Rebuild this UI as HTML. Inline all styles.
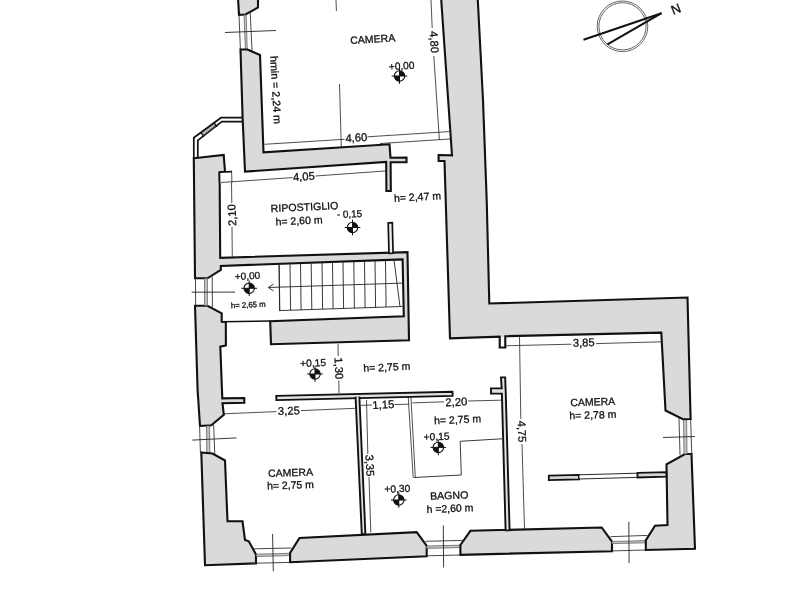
<!DOCTYPE html>
<html><head><meta charset="utf-8"><style>
html,body{margin:0;padding:0;background:#fff;}
body{width:800px;height:600px;overflow:hidden;}
svg{display:block;font-family:"Liberation Sans",sans-serif;filter:grayscale(1);}
</style></head><body>
<svg width="800" height="600" viewBox="0 0 800 600">
<rect width="800" height="600" fill="#fff"/>
<polygon points="238.00,-2.00 258.00,-2.00 258.00,7.50 245.50,14.50 239.00,14.80" fill="#dadada" stroke="#111" stroke-width="2.1" stroke-linejoin="miter"/>
<line x1="239" y1="15" x2="240.4" y2="49.5" stroke="#333" stroke-width="0.9"/>
<polygon points="244.00,15.00 246.20,15.00 247.20,49.50 245.40,49.50" fill="#c4c4c4" stroke="#666" stroke-width="0.8"/>
<line x1="250.2" y1="12" x2="252" y2="50.5" stroke="#333" stroke-width="0.9"/>
<line x1="225" y1="32.5" x2="276" y2="30.5" stroke="#222" stroke-width="0.9"/>
<polygon points="240.50,49.50 247.50,49.50 260.00,55.00 263.50,152.30 389.50,144.30 390.50,157.80 406.50,157.60 406.50,162.20 390.60,162.30 390.80,191.00 386.40,191.00 386.20,161.90 245.00,171.60 242.60,117.50" fill="#dadada" stroke="#111" stroke-width="2.1" stroke-linejoin="miter"/>
<polyline points="242.60,117.70 221.00,117.70 193.80,137.80 193.80,158.30" fill="none" stroke="#111" stroke-width="1.7"/>
<polyline points="242.60,121.70 221.80,121.70 197.80,140.40 197.80,157.50" fill="none" stroke="#111" stroke-width="1.7"/>
<line x1="201.8" y1="133.6" x2="214.7" y2="123.9" stroke="#444" stroke-width="0.6"/>
<line x1="202.5" y1="134.6" x2="215.4" y2="124.9" stroke="#444" stroke-width="0.6"/>
<line x1="203.2" y1="135.6" x2="216.1" y2="125.9" stroke="#444" stroke-width="0.6"/>
<line x1="200.9" y1="132.4" x2="203.9" y2="136.6" stroke="#111" stroke-width="1.4"/>
<line x1="214.0" y1="122.8" x2="217.0" y2="126.9" stroke="#111" stroke-width="1.4"/>
<polygon points="193.80,158.30 223.70,155.00 225.00,171.70 219.60,172.40 220.20,257.80 407.50,252.20 409.00,340.30 271.00,344.20 270.20,321.20 403.80,316.20 402.60,259.40 220.80,265.90 220.80,270.00 207.50,278.30 195.00,278.30" fill="#dadada" stroke="#111" stroke-width="2.1" stroke-linejoin="miter"/>
<polygon points="388.20,222.80 392.30,222.60 393.10,253.20 389.00,253.40" fill="#ececec" stroke="#111" stroke-width="1.7" stroke-linejoin="miter"/>
<polygon points="219.40,172.20 231.80,171.60 232.20,182.20 219.60,182.50" fill="#fff" stroke="#111" stroke-width="0" stroke-linejoin="miter"/>
<polyline points="219.60,182.50 219.40,172.20 231.80,171.60" fill="none" stroke="#111" stroke-width="1.7"/>
<line x1="231.6" y1="170.5" x2="231.9" y2="182.5" stroke="#222" stroke-width="0.8"/>
<line x1="279.2" y1="264.59235772357727" x2="279.8" y2="310.59333333333336" stroke="#222" stroke-width="0.9"/>
<line x1="290" y1="264.179674796748" x2="290.6" y2="310.23333333333335" stroke="#222" stroke-width="0.9"/>
<line x1="300.5" y1="263.7784552845529" x2="301.1" y2="309.8833333333333" stroke="#222" stroke-width="0.9"/>
<line x1="311.2" y1="263.36959349593496" x2="311.8" y2="309.5266666666667" stroke="#222" stroke-width="0.9"/>
<line x1="322" y1="262.95691056910573" x2="322.6" y2="309.1666666666667" stroke="#222" stroke-width="0.9"/>
<line x1="332.5" y1="262.5556910569106" x2="333.1" y2="308.81666666666666" stroke="#222" stroke-width="0.9"/>
<line x1="343" y1="262.1544715447155" x2="343.6" y2="308.4666666666667" stroke="#222" stroke-width="0.9"/>
<line x1="353.8" y1="261.7417886178862" x2="354.40000000000003" y2="308.1066666666667" stroke="#222" stroke-width="0.9"/>
<line x1="364.5" y1="261.33292682926833" x2="365.1" y2="307.75" stroke="#222" stroke-width="0.9"/>
<line x1="375" y1="260.9317073170732" x2="375.6" y2="307.4" stroke="#222" stroke-width="0.9"/>
<line x1="385.5" y1="260.5304878048781" x2="386.1" y2="307.05" stroke="#222" stroke-width="0.9"/>
<line x1="394" y1="259.9056910569106" x2="400" y2="306.56666666666666" stroke="#222" stroke-width="0.9"/>
<line x1="279" y1="310.6" x2="402.5" y2="306.48333333333335" stroke="#222" stroke-width="0.9"/>
<line x1="279" y1="264.3" x2="279.6" y2="310.58000000000004" stroke="#222" stroke-width="0.9"/>
<line x1="268.3" y1="287.5" x2="402.5" y2="283.1" stroke="#222" stroke-width="0.9"/>
<polyline points="273.60,284.00 268.30,287.50 273.60,291.00" fill="none" stroke="#222" stroke-width="0.9"/>
<line x1="221.7" y1="321.7" x2="270.2" y2="321.0" stroke="#111" stroke-width="1.6"/>
<polygon points="195.00,305.80 207.50,305.80 221.70,313.30 221.70,321.70 225.80,321.90 225.90,345.50 220.30,346.60 222.30,398.40 244.20,398.00 244.30,402.80 222.50,403.20 223.80,414.80 211.30,425.20 200.00,426.00 197.60,390.00" fill="#dadada" stroke="#111" stroke-width="2.1" stroke-linejoin="miter"/>
<line x1="195.5" y1="278.6" x2="195.6" y2="305.6" stroke="#333" stroke-width="0.9"/>
<polygon points="204.50,278.60 207.40,278.60 207.40,305.60 204.60,305.60" fill="#c4c4c4" stroke="#666" stroke-width="0.8"/>
<line x1="212.2" y1="276.8" x2="212.4" y2="307.5" stroke="#333" stroke-width="0.9"/>
<line x1="191.7" y1="292.2" x2="235" y2="292.1" stroke="#222" stroke-width="0.9"/>
<line x1="199.6" y1="426" x2="200.4" y2="452.5" stroke="#333" stroke-width="0.9"/>
<polygon points="206.50,426.00 209.60,426.00 209.90,452.80 206.80,452.80" fill="#c4c4c4" stroke="#666" stroke-width="0.8"/>
<line x1="213.6" y1="424.5" x2="214.8" y2="454" stroke="#333" stroke-width="0.9"/>
<line x1="192.25" y1="440.1" x2="236.5" y2="437.9" stroke="#222" stroke-width="0.9"/>
<polygon points="201.30,452.50 212.50,453.50 225.00,460.50 227.50,521.30 242.50,521.30 245.00,540.00 248.80,541.30 256.00,554.40 256.00,563.40 205.00,565.20" fill="#dadada" stroke="#111" stroke-width="2.1" stroke-linejoin="miter"/>
<line x1="253.8" y1="548.8" x2="291.3" y2="548.0" stroke="#333" stroke-width="0.9"/>
<polygon points="256.30,554.20 290.00,553.30 290.00,555.60 256.30,556.50" fill="#c4c4c4" stroke="#666" stroke-width="0.8"/>
<line x1="250" y1="563.3" x2="300" y2="562.2" stroke="#333" stroke-width="0.9"/>
<line x1="272.6" y1="534" x2="273.3" y2="571.3" stroke="#222" stroke-width="0.9"/>
<polygon points="290.10,562.20 290.10,552.90 299.50,537.90 416.70,532.10 426.70,545.80 426.70,556.20" fill="#dadada" stroke="#111" stroke-width="2.1" stroke-linejoin="miter"/>
<line x1="425.4" y1="541.3" x2="462.5" y2="540.4" stroke="#333" stroke-width="0.9"/>
<polygon points="426.70,546.00 460.40,545.20 460.40,547.60 426.70,548.40" fill="#c4c4c4" stroke="#666" stroke-width="0.8"/>
<line x1="426.7" y1="555.8" x2="460.4" y2="555.0" stroke="#333" stroke-width="0.9"/>
<line x1="443.3" y1="525.4" x2="443.6" y2="567.5" stroke="#222" stroke-width="0.9"/>
<polygon points="460.40,554.80 460.40,545.00 470.40,530.80 601.70,527.50 612.00,541.70 612.00,551.20" fill="#dadada" stroke="#111" stroke-width="2.1" stroke-linejoin="miter"/>
<line x1="610.4" y1="536.7" x2="647.5" y2="535.4" stroke="#333" stroke-width="0.9"/>
<polygon points="612.00,541.50 645.80,540.60 645.80,542.80 612.00,543.60" fill="#c4c4c4" stroke="#666" stroke-width="0.8"/>
<line x1="612" y1="550.9" x2="645.8" y2="550.0" stroke="#333" stroke-width="0.9"/>
<line x1="628.8" y1="521.7" x2="629.1" y2="563" stroke="#222" stroke-width="0.9"/>
<polygon points="645.80,550.00 645.80,540.40 655.00,525.80 667.50,525.00 666.50,464.30 685.00,454.00 691.50,454.00 695.00,548.80" fill="#dadada" stroke="#111" stroke-width="2.1" stroke-linejoin="miter"/>
<line x1="679" y1="418" x2="680" y2="455" stroke="#333" stroke-width="0.9"/>
<polygon points="683.50,419.00 686.60,419.00 687.00,454.00 684.00,454.00" fill="#c4c4c4" stroke="#666" stroke-width="0.8"/>
<line x1="690.6" y1="418" x2="691.8" y2="455" stroke="#333" stroke-width="0.9"/>
<line x1="663" y1="437.5" x2="695" y2="436.5" stroke="#222" stroke-width="0.9"/>
<polygon points="441.10,-2.00 477.70,-2.00 483.00,100.00 486.70,200.00 489.30,303.50 687.50,297.50 690.60,419.00 683.00,419.20 665.50,410.50 661.30,332.60 505.30,336.20 505.30,347.50 499.70,347.50 499.70,336.60 450.00,338.30 444.50,161.00 438.60,161.00 438.60,155.00 452.00,155.30" fill="#dadada" stroke="#111" stroke-width="2.1" stroke-linejoin="miter"/>
<rect x="501.1" y="337.2" width="2.6" height="9.1" fill="#fff"/>
<polygon points="276.30,395.90 452.50,391.70 452.60,395.90 276.40,400.10" fill="#e2e2e2" stroke="#111" stroke-width="1.9" stroke-linejoin="miter"/>
<polygon points="355.60,397.60 359.40,397.50 365.40,534.00 361.80,534.10" fill="#e2e2e2" stroke="#111" stroke-width="1.9" stroke-linejoin="miter"/>
<polygon points="356.6,395.0 358.4,395.0 358.5,399.4 356.7,399.4" fill="#e2e2e2"/>
<polygon points="501.00,377.40 505.20,377.40 505.50,388.20 505.60,388.20 509.60,530.30 505.60,530.40 501.90,393.60 491.00,393.60 491.00,388.40 501.70,388.40" fill="#e2e2e2" stroke="#111" stroke-width="1.9" stroke-linejoin="miter"/>
<line x1="408.2" y1="396.5" x2="413.2" y2="477.6" stroke="#222" stroke-width="0.8"/>
<line x1="410.9" y1="396.3" x2="415.3" y2="477.4" stroke="#222" stroke-width="0.8"/>
<polyline points="413.80,477.50 461.30,475.00 460.20,441.30 502.00,438.80" fill="none" stroke="#222" stroke-width="0.9"/>
<polygon points="548.80,475.60 579.00,474.80 579.00,479.30 548.80,480.10" fill="#d4d4d4" stroke="#111" stroke-width="1.8" stroke-linejoin="miter"/>
<polygon points="579.00,474.80 637.50,473.20 637.50,477.40 579.00,479.00" fill="#fff" stroke="#111" stroke-width="0.9" stroke-linejoin="miter"/>
<polygon points="637.50,472.80 666.30,472.10 666.30,476.70 637.50,477.50" fill="#d4d4d4" stroke="#111" stroke-width="1.8" stroke-linejoin="miter"/>
<line x1="336" y1="0" x2="336.4" y2="11" stroke="#222" stroke-width="0.8"/>
<line x1="339.5" y1="84" x2="341.3" y2="147" stroke="#222" stroke-width="0.8"/>
<line x1="264.4" y1="144.3" x2="344.5" y2="139.3" stroke="#222" stroke-width="0.8"/>
<line x1="367.5" y1="136.8" x2="449" y2="131.6" stroke="#222" stroke-width="0.8"/>
<line x1="380" y1="143.5" x2="450" y2="139" stroke="#222" stroke-width="0.8"/>
<line x1="431" y1="0" x2="432.2" y2="28" stroke="#222" stroke-width="0.8"/>
<line x1="433.8" y1="56" x2="439.4" y2="140" stroke="#222" stroke-width="0.8"/>
<line x1="221" y1="182.5" x2="292.5" y2="177.6" stroke="#222" stroke-width="0.8"/>
<line x1="315.5" y1="176.0" x2="386.3" y2="170.9" stroke="#222" stroke-width="0.8"/>
<line x1="231.5" y1="182.5" x2="231.8" y2="203" stroke="#222" stroke-width="0.8"/>
<line x1="232" y1="227" x2="232.3" y2="257.8" stroke="#222" stroke-width="0.8"/>
<line x1="338" y1="344" x2="338.2" y2="356" stroke="#222" stroke-width="0.8"/>
<line x1="338.8" y1="380.5" x2="339" y2="393" stroke="#222" stroke-width="0.8"/>
<line x1="224" y1="413.8" x2="276.5" y2="411.6" stroke="#222" stroke-width="0.8"/>
<line x1="301" y1="410.6" x2="355" y2="408.3" stroke="#222" stroke-width="0.8"/>
<line x1="361" y1="405.4" x2="372" y2="405" stroke="#222" stroke-width="0.8"/>
<line x1="394.5" y1="404.5" x2="409" y2="404.2" stroke="#222" stroke-width="0.8"/>
<line x1="412.3" y1="402.9" x2="444" y2="401.8" stroke="#222" stroke-width="0.8"/>
<line x1="468" y1="401" x2="501" y2="400.2" stroke="#222" stroke-width="0.8"/>
<line x1="366.5" y1="400" x2="367.8" y2="454" stroke="#222" stroke-width="0.8"/>
<line x1="369" y1="477" x2="370.8" y2="532.5" stroke="#222" stroke-width="0.8"/>
<line x1="519.5" y1="336" x2="520.8" y2="419" stroke="#222" stroke-width="0.8"/>
<line x1="522" y1="444" x2="524.5" y2="528.8" stroke="#222" stroke-width="0.8"/>
<line x1="505.3" y1="345.8" x2="571.5" y2="344.2" stroke="#222" stroke-width="0.8"/>
<line x1="596" y1="343.6" x2="661.5" y2="341.8" stroke="#222" stroke-width="0.8"/>
<text x="372.75" y="42.78" font-size="10.5" text-anchor="middle" transform="rotate(-3.30 372.75 39)" fill="#111" stroke="#111" stroke-width="0.3">CAMERA</text>
<text x="401.6" y="69.47" font-size="10.2" text-anchor="middle" transform="rotate(-3.30 401.6 65.8)" fill="#111" stroke="#111" stroke-width="0.3">+0,00</text>
<g><path d="M399.5,76 L399.5,70.8 A5.2,5.2 0 0 1 404.7,76 Z" fill="#111"/><path d="M399.5,76 L399.5,81.2 A5.2,5.2 0 0 1 394.3,76 Z" fill="#111"/><circle cx="399.5" cy="76" r="5.2" fill="none" stroke="#111" stroke-width="1.1"/><line x1="391.7" y1="76" x2="407.3" y2="76" stroke="#111" stroke-width="1"/><line x1="399.5" y1="68.2" x2="399.5" y2="83.8" stroke="#111" stroke-width="1"/></g>
<text x="276" y="93.85" font-size="10.7" text-anchor="middle" transform="rotate(86.70 276 90)" fill="#111" stroke="#111" stroke-width="0.3">hmin = 2,24 m</text>
<text x="434.4" y="46.03" font-size="11.2" text-anchor="middle" transform="rotate(86.70 434.4 42)" fill="#111" stroke="#111" stroke-width="0.3">4,80</text>
<text x="356.3" y="141.53" font-size="11.2" text-anchor="middle" transform="rotate(-3.30 356.3 137.5)" fill="#111" stroke="#111" stroke-width="0.3">4,60</text>
<text x="303.8" y="180.33" font-size="11.2" text-anchor="middle" transform="rotate(-3.30 303.8 176.3)" fill="#111" stroke="#111" stroke-width="0.3">4,05</text>
<text x="231.8" y="219.03" font-size="11.2" text-anchor="middle" transform="rotate(-92.60 231.8 215)" fill="#111" stroke="#111" stroke-width="0.3">2,10</text>
<text x="304.5" y="210.62" font-size="10.6" text-anchor="middle" transform="rotate(-2.60 304.5 206.8)" fill="#111" stroke="#111" stroke-width="0.3">RIPOSTIGLIO</text>
<text x="299" y="224.38" font-size="10.5" text-anchor="middle" transform="rotate(-2.60 299 220.6)" fill="#111" stroke="#111" stroke-width="0.3">h= 2,60 m</text>
<text x="338.5" y="217.80" font-size="10" text-anchor="middle" transform="rotate(-2.60 338.5 214.2)" fill="#111" stroke="#111" stroke-width="0.3">-</text>
<text x="352.5" y="217.40" font-size="10" text-anchor="middle" transform="rotate(-2.60 352.5 213.8)" fill="#111" stroke="#111" stroke-width="0.3">0,15</text>
<g><path d="M352.5,227.5 L352.5,222.3 A5.2,5.2 0 0 1 357.7,227.5 Z" fill="#111"/><path d="M352.5,227.5 L352.5,232.7 A5.2,5.2 0 0 1 347.3,227.5 Z" fill="#111"/><circle cx="352.5" cy="227.5" r="5.2" fill="none" stroke="#111" stroke-width="1.1"/><line x1="344.7" y1="227.5" x2="360.3" y2="227.5" stroke="#111" stroke-width="1"/><line x1="352.5" y1="219.7" x2="352.5" y2="235.3" stroke="#111" stroke-width="1"/></g>
<text x="417.5" y="200.58" font-size="10.5" text-anchor="middle" transform="rotate(-3.30 417.5 196.8)" fill="#111" stroke="#111" stroke-width="0.3">h= 2,47 m</text>
<text x="247.5" y="279.40" font-size="10" text-anchor="middle" transform="rotate(-2.60 247.5 275.8)" fill="#111" stroke="#111" stroke-width="0.3">+0,00</text>
<g><path d="M249.2,288.3 L249.2,283.1 A5.2,5.2 0 0 1 254.39999999999998,288.3 Z" fill="#111"/><path d="M249.2,288.3 L249.2,293.5 A5.2,5.2 0 0 1 244.0,288.3 Z" fill="#111"/><circle cx="249.2" cy="288.3" r="5.2" fill="none" stroke="#111" stroke-width="1.1"/><line x1="241.39999999999998" y1="288.3" x2="257.0" y2="288.3" stroke="#111" stroke-width="1"/><line x1="249.2" y1="280.5" x2="249.2" y2="296.1" stroke="#111" stroke-width="1"/></g>
<text x="248.3" y="307.41" font-size="7.8" text-anchor="middle" transform="rotate(-2.60 248.3 304.6)" fill="#111" stroke="#111" stroke-width="0.3">h= 2,65 m</text>
<text x="313" y="366.47" font-size="10.2" text-anchor="middle" transform="rotate(-2.60 313 362.8)" fill="#111" stroke="#111" stroke-width="0.3">+0,15</text>
<g><path d="M315,374 L315,368.8 A5.2,5.2 0 0 1 320.2,374 Z" fill="#111"/><path d="M315,374 L315,379.2 A5.2,5.2 0 0 1 309.8,374 Z" fill="#111"/><circle cx="315" cy="374" r="5.2" fill="none" stroke="#111" stroke-width="1.1"/><line x1="307.2" y1="374" x2="322.8" y2="374" stroke="#111" stroke-width="1"/><line x1="315" y1="366.2" x2="315" y2="381.8" stroke="#111" stroke-width="1"/></g>
<text x="339" y="372.33" font-size="11.2" text-anchor="middle" transform="rotate(87.40 339 368.3)" fill="#111" stroke="#111" stroke-width="0.3">1,30</text>
<text x="386.8" y="370.78" font-size="10.5" text-anchor="middle" transform="rotate(-2.60 386.8 367)" fill="#111" stroke="#111" stroke-width="0.3">h= 2,75 m</text>
<text x="288.8" y="414.63" font-size="11.2" text-anchor="middle" transform="rotate(-2.60 288.8 410.6)" fill="#111" stroke="#111" stroke-width="0.3">3,25</text>
<text x="383.3" y="408.53" font-size="11.2" text-anchor="middle" transform="rotate(-2.60 383.3 404.5)" fill="#111" stroke="#111" stroke-width="0.3">1,15</text>
<text x="456.3" y="405.83" font-size="11.2" text-anchor="middle" transform="rotate(-2.60 456.3 401.8)" fill="#111" stroke="#111" stroke-width="0.3">2,20</text>
<text x="457.5" y="423.28" font-size="10.5" text-anchor="middle" transform="rotate(-2.60 457.5 419.5)" fill="#111" stroke="#111" stroke-width="0.3">h= 2,75 m</text>
<text x="436.6" y="439.97" font-size="10.2" text-anchor="middle" transform="rotate(-2.00 436.6 436.3)" fill="#111" stroke="#111" stroke-width="0.3">+0,15</text>
<g><path d="M438.3,447.4 L438.3,442.2 A5.2,5.2 0 0 1 443.5,447.4 Z" fill="#111"/><path d="M438.3,447.4 L438.3,452.59999999999997 A5.2,5.2 0 0 1 433.1,447.4 Z" fill="#111"/><circle cx="438.3" cy="447.4" r="5.2" fill="none" stroke="#111" stroke-width="1.1"/><line x1="430.5" y1="447.4" x2="446.1" y2="447.4" stroke="#111" stroke-width="1"/><line x1="438.3" y1="439.59999999999997" x2="438.3" y2="455.2" stroke="#111" stroke-width="1"/></g>
<text x="290.6" y="476.28" font-size="10.5" text-anchor="middle" transform="rotate(-2.00 290.6 472.5)" fill="#111" stroke="#111" stroke-width="0.3">CAMERA</text>
<text x="290.5" y="488.78" font-size="10.5" text-anchor="middle" transform="rotate(-2.00 290.5 485)" fill="#111" stroke="#111" stroke-width="0.3">h= 2,75 m</text>
<text x="370" y="469.53" font-size="11.2" text-anchor="middle" transform="rotate(88.00 370 465.5)" fill="#111" stroke="#111" stroke-width="0.3">3,35</text>
<text x="397.3" y="492.17" font-size="10.2" text-anchor="middle" transform="rotate(-2.00 397.3 488.5)" fill="#111" stroke="#111" stroke-width="0.3">+0,30</text>
<g><path d="M398.8,500 L398.8,494.8 A5.2,5.2 0 0 1 404.0,500 Z" fill="#111"/><path d="M398.8,500 L398.8,505.2 A5.2,5.2 0 0 1 393.6,500 Z" fill="#111"/><circle cx="398.8" cy="500" r="5.2" fill="none" stroke="#111" stroke-width="1.1"/><line x1="391.0" y1="500" x2="406.6" y2="500" stroke="#111" stroke-width="1"/><line x1="398.8" y1="492.2" x2="398.8" y2="507.8" stroke="#111" stroke-width="1"/></g>
<text x="449.2" y="499.02" font-size="10.6" text-anchor="middle" transform="rotate(-2.00 449.2 495.2)" fill="#111" stroke="#111" stroke-width="0.3">BAGNO</text>
<text x="450" y="512.08" font-size="10.5" text-anchor="middle" transform="rotate(-2.00 450 508.3)" fill="#111" stroke="#111" stroke-width="0.3">h =2,60 m</text>
<text x="583.8" y="346.53" font-size="11.2" text-anchor="middle" transform="rotate(-1.80 583.8 342.5)" fill="#111" stroke="#111" stroke-width="0.3">3,85</text>
<text x="592.8" y="405.58" font-size="10.5" text-anchor="middle" transform="rotate(-1.80 592.8 401.8)" fill="#111" stroke="#111" stroke-width="0.3">CAMERA</text>
<text x="592.8" y="418.58" font-size="10.5" text-anchor="middle" transform="rotate(-1.80 592.8 414.8)" fill="#111" stroke="#111" stroke-width="0.3">h= 2,78 m</text>
<text x="522" y="435.53" font-size="11.2" text-anchor="middle" transform="rotate(88.20 522 431.5)" fill="#111" stroke="#111" stroke-width="0.3">4,75</text>
<circle cx="622.5" cy="26.3" r="25.3" fill="none" stroke="#666" stroke-width="1.0"/>
<circle cx="622.5" cy="26.3" r="23.6" fill="none" stroke="#666" stroke-width="1.0"/>
<line x1="583.5" y1="39.8" x2="661.5" y2="13.2" stroke="#111" stroke-width="2.0"/>
<line x1="607.5" y1="44.3" x2="661.5" y2="13.2" stroke="#111" stroke-width="2.0"/>
<text x="675.8" y="13.48" font-size="13" text-anchor="middle" transform="rotate(-22.00 675.8 8.8)" fill="#111" stroke="#111" stroke-width="0.3">N</text>
</svg>
</body></html>
